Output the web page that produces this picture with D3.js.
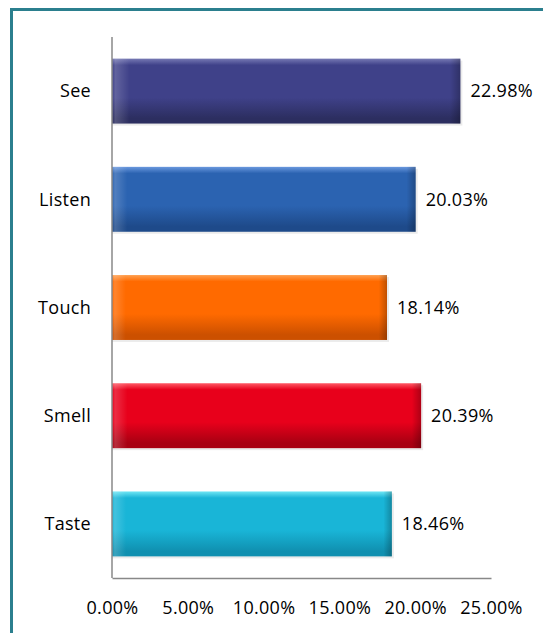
<!DOCTYPE html>
<html>
<head>
<meta charset="utf-8">
<script src="https://cdn.jsdelivr.net/npm/d3@7"></script>
<style>
    body { margin: 0; background: #fff; }
    text { font-family: "Open Sans", sans-serif; fill: #000; }
</style>
</head>
<body>
<script>
// Chart data
const senses = ["See", "Listen", "Touch", "Smell", "Taste"];
const shares = [22.98, 20.03, 18.14, 20.39, 18.46];
const ticks = [0, 5, 10, 15, 20, 25];
// light / base / dark for each bar
const barColors = [
    ["#7679b4", "#3f4189", "#2c2e60"],
    ["#6a98de", "#2b63b1", "#1e4a8a"],
    ["#ffa050", "#ff6a00", "#cc5000"],
    ["#ff5a66", "#e8001b", "#a80012"],
    ["#70e6f4", "#19b5d7", "#1090b0"]
];

const width = 543;
const height = 633;
const marginTop = 37;
const marginLeft = 112;
const plotBottom = 578;

const svg = d3.select("body")
    .append("svg")
        .attr("width", width)
        .attr("height", height);

// Outer frame
svg.append("rect")
    .attr("x", 11.5)
    .attr("y", 9.5)
    .attr("width", width + 20)
    .attr("height", height + 20)
    .attr("fill", "none")
    .attr("stroke", "#2b7f8e")
    .attr("stroke-width", 3);

const x = d3.scaleLinear()
    .domain([0, 25])
    .range([marginLeft, 491]);

const y = d3.scaleBand()
    .domain(senses)
    .range([marginTop, plotBottom])
    .paddingInner(0.4)
    .paddingOuter(0.2);

// Gradients for the bevelled bars
const defs = svg.append("defs");
senses.forEach((s, i) => {
    const [light, base, dark] = barColors[i];
    const g = defs.append("linearGradient")
        .attr("id", "grad" + i)
        .attr("x1", 0).attr("y1", 0)
        .attr("x2", 0).attr("y2", 1);
    g.append("stop").attr("offset", "0%").attr("stop-color", light);
    g.append("stop").attr("offset", "10%").attr("stop-color", base);
    g.append("stop").attr("offset", "60%").attr("stop-color", base);
    g.append("stop").attr("offset", "92%").attr("stop-color", dark);
    g.append("stop").attr("offset", "100%").attr("stop-color", dark);

    const h = defs.append("linearGradient")
        .attr("id", "side" + i)
        .attr("x1", 0).attr("y1", 0)
        .attr("x2", 1).attr("y2", 0);
    h.append("stop").attr("offset", "0%").attr("stop-color", "#fff").attr("stop-opacity", 0.0);
    h.append("stop").attr("offset", "1%").attr("stop-color", "#fff").attr("stop-opacity", 0.18);
    h.append("stop").attr("offset", "5%").attr("stop-color", "#fff").attr("stop-opacity", 0);
    h.append("stop").attr("offset", "97%").attr("stop-color", "#000").attr("stop-opacity", 0);
    h.append("stop").attr("offset", "100%").attr("stop-color", "#000").attr("stop-opacity", 0.25);
});

const bars = svg.append("g");

// soft shadow
bars.selectAll(".shadow")
    .data(senses)
    .join("rect")
        .attr("class", "shadow")
        .attr("x", d => x(0))
        .attr("y", d => y(d) + 2)
        .attr("width", (d, i) => x(shares[i]) - x(0) + 2)
        .attr("height", y.bandwidth())
        .attr("fill", "#000")
        .attr("opacity", 0.08);

bars.selectAll(".bar")
    .data(senses)
    .join("rect")
        .attr("class", "bar")
        .attr("x", d => x(0))
        .attr("y", d => y(d))
        .attr("width", (d, i) => x(shares[i]) - x(0))
        .attr("height", y.bandwidth())
        .attr("fill", (d, i) => `url(#grad${i})`);

bars.selectAll(".side")
    .data(senses)
    .join("rect")
        .attr("class", "side")
        .attr("x", d => x(0))
        .attr("y", d => y(d))
        .attr("width", (d, i) => x(shares[i]) - x(0))
        .attr("height", y.bandwidth())
        .attr("fill", (d, i) => `url(#side${i})`);

// Value labels
svg.append("g")
    .selectAll("text")
    .data(senses)
    .join("text")
        .attr("x", (d, i) => x(shares[i]) + 10)
        .attr("y", d => y(d) + y.bandwidth() / 2)
        .attr("dy", "0.35em")
        .style("font-size", "18px")
        .style("letter-spacing", "0.3px")
        .text((d, i) => shares[i].toFixed(2) + "%");

// Category labels
svg.append("g")
    .selectAll("text")
    .data(senses)
    .join("text")
        .attr("x", 91)
        .attr("y", d => y(d) + y.bandwidth() / 2)
        .attr("dy", "0.35em")
        .attr("text-anchor", "end")
        .style("font-size", "18px")
        .style("letter-spacing", "0.3px")
        .text(d => d);

// Axes
svg.append("line")
    .attr("x1", marginLeft).attr("x2", marginLeft)
    .attr("y1", marginTop).attr("y2", plotBottom)
    .attr("stroke", "#888")
    .attr("stroke-width", 1.5);

const xAxis = svg.append("g")
    .attr("transform", `translate(0,${plotBottom})`)
    .call(d3.axisBottom(x)
        .tickValues(ticks)
        .tickSize(0)
        .tickPadding(23)
        .tickFormat(d => d.toFixed(2) + "%"));
xAxis.select(".domain")
    .attr("stroke", "#888")
    .attr("stroke-width", 1.5);
xAxis.selectAll("text")
    .style("font-size", "18px")
    .style("letter-spacing", "0.3px")
    .style("font-family", "'Open Sans', sans-serif")
    .attr("fill", "#000");
</script>
</body>
</html>
